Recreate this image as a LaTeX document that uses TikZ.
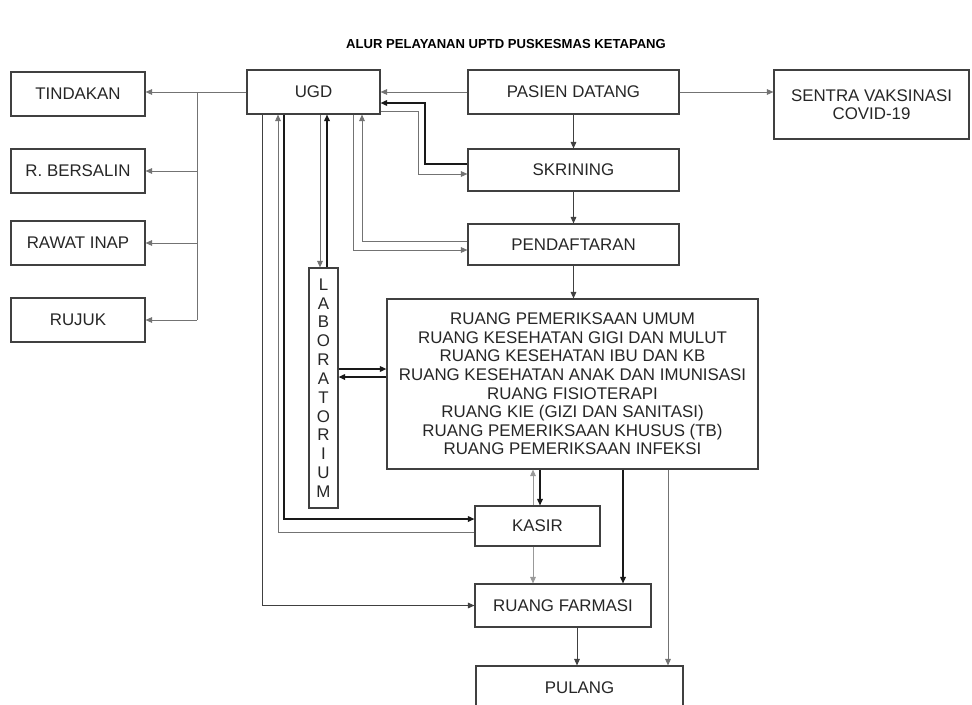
\documentclass[tikz,border=0pt]{standalone}
\usepackage{fontspec}
\setmainfont{Liberation Sans}
\usetikzlibrary{arrows.meta}

\begin{document}
\begin{tikzpicture}[x=0.025cm,y=-0.025cm,
  >={Triangle[length=4.6pt,width=4pt]},
  box/.style={draw=black!75,line width=0.8pt,text=black!85,inner sep=1pt,
    minimum height=1.1cm,font=\fontsize{12}{13.2}\selectfont,align=center},
  gline/.style={->,draw=black!55,line width=0.7pt},
  bline/.style={->,draw=black!90,line width=0.9pt}]
  \useasboundingbox (0,0) rectangle (972,704);
  \node (title) at (506,44) {\fontsize{9.3}{10}\selectfont\bf ALUR PELAYANAN UPTD PUSKESMAS KETAPANG};
  % left column
  \node (tind) at (78,94) [box,minimum width=3.35cm] {TINDAKAN};
  \node (bers) at (78,171) [box,minimum width=3.35cm] {R. BERSALIN};
  \node (rawat) at (78,243) [box,minimum width=3.35cm] {RAWAT INAP};
  \node (rujuk) at (78,320) [box,minimum width=3.35cm] {RUJUK};
  % main column
  \node (ugd) at (313.5,92) [box,minimum width=3.325cm] {UGD};
  \node (pasien) at (573.5,92) [box,minimum width=5.275cm] {PASIEN DATANG};
  \node (skr) at (573.5,170) [box,minimum width=5.275cm,minimum height=1.05cm] {SKRINING};
  \node (daftar) at (573.5,244.5) [box,minimum width=5.275cm,minimum height=1.025cm] {PENDAFTARAN};
  \node (sentra) at (871.5,104.5) [box,minimum width=4.875cm,minimum height=1.725cm] {SENTRA VAKSINASI\\COVID-19};
  \node (ruang) at (572.5,384) [box,minimum width=9.275cm,minimum height=4.25cm] {RUANG PEMERIKSAAN UMUM\\RUANG KESEHATAN GIGI DAN MULUT\\RUANG KESEHATAN IBU DAN KB\\RUANG KESEHATAN ANAK DAN IMUNISASI\\RUANG FISIOTERAPI\\RUANG KIE (GIZI DAN SANITASI)\\RUANG PEMERIKSAAN KHUSUS (TB)\\RUANG PEMERIKSAAN INFEKSI};
  \node (lab) at (323.5,388) [box,minimum width=0.725cm,minimum height=6cm,font=\fontsize{12}{13.4}\selectfont] {L\\A\\B\\O\\R\\A\\T\\O\\R\\I\\U\\M};
  \node (kasir) at (537.5,526) [box,minimum width=3.125cm,minimum height=1cm] {KASIR};
  \node (farmasi) at (563,605.5) [box,minimum width=4.4cm,minimum height=1.075cm] {RUANG FARMASI};
  \node (pulang) at (579.5,688) [box,minimum width=5.175cm] {PULANG};
  \coordinate (split) at (197,92);

  % UGD to the left column
  \draw[gline] (ugd.west) -- (tind.east |- ugd.west);
  \draw[gline,-] (split) -- (split |- rujuk.east);
  \draw[gline] (split |- bers.east) -- (bers.east);
  \draw[gline] (split |- rawat.east) -- (rawat.east);
  \draw[gline] (split |- rujuk.east) -- (rujuk.east);
  % patient flow
  \draw[gline] (pasien.west) -- (ugd.east);
  \draw[gline] (pasien.east) -- (sentra.west |- pasien.east);
  \draw[gline,draw=black!75] (pasien.south) -- (skr.north);
  \draw[gline,draw=black!75] (skr.south) -- (daftar.north);
  \draw[gline,draw=black!75] (daftar.south) -- (ruang.north -| daftar.south);
  \draw[bline] (skr.west |- 0,164) -| (425,103) -- (ugd.east |- 0,103);
  \draw[gline] (ugd.east |- 0,111) -| (418,174) -- (skr.west |- 0,174);
  \draw[gline] (daftar.west |- 0,241) -| (ugd.south -| 362,0);
  \draw[gline] (ugd.south -| 353,0) |- (daftar.west |- 0,250);
  % laboratorium
  \draw[gline] (ugd.south -| 320,0) -- (lab.north -| 320,0);
  \draw[bline] (lab.north -| 327,0) -- (ugd.south -| 327,0);
  \draw[bline] (lab.east |- 0,369) -- (ruang.west |- 0,369);
  \draw[bline] (ruang.west |- 0,377) -- (lab.east |- 0,377);
  % kasir, farmasi, pulang
  \draw[gline,draw=black!75] (ugd.south -| 262,0) |- (farmasi.west);
  \draw[bline] (ugd.south -| 284,0) |- (kasir.west |- 0,519);
  \draw[gline] (kasir.west |- 0,532) -| (ugd.south -| 278,0);
  \draw[bline] (ruang.south -| 540,0) -- (kasir.north -| 540,0);
  \draw[gline,draw=black!40] (kasir.north -| 533,0) -- (ruang.south -| 533,0);
  \draw[gline,draw=black!40] (kasir.south -| 533,0) -- (farmasi.north -| 533,0);
  \draw[bline] (ruang.south -| 623,0) -- (farmasi.north -| 623,0);
  \draw[gline,draw=black!75] (farmasi.south -| 577,0) -- (pulang.north -| 577,0);
  \draw[gline] (ruang.south -| 668,0) -- (pulang.north -| 668,0);
\end{tikzpicture}
\end{document}
